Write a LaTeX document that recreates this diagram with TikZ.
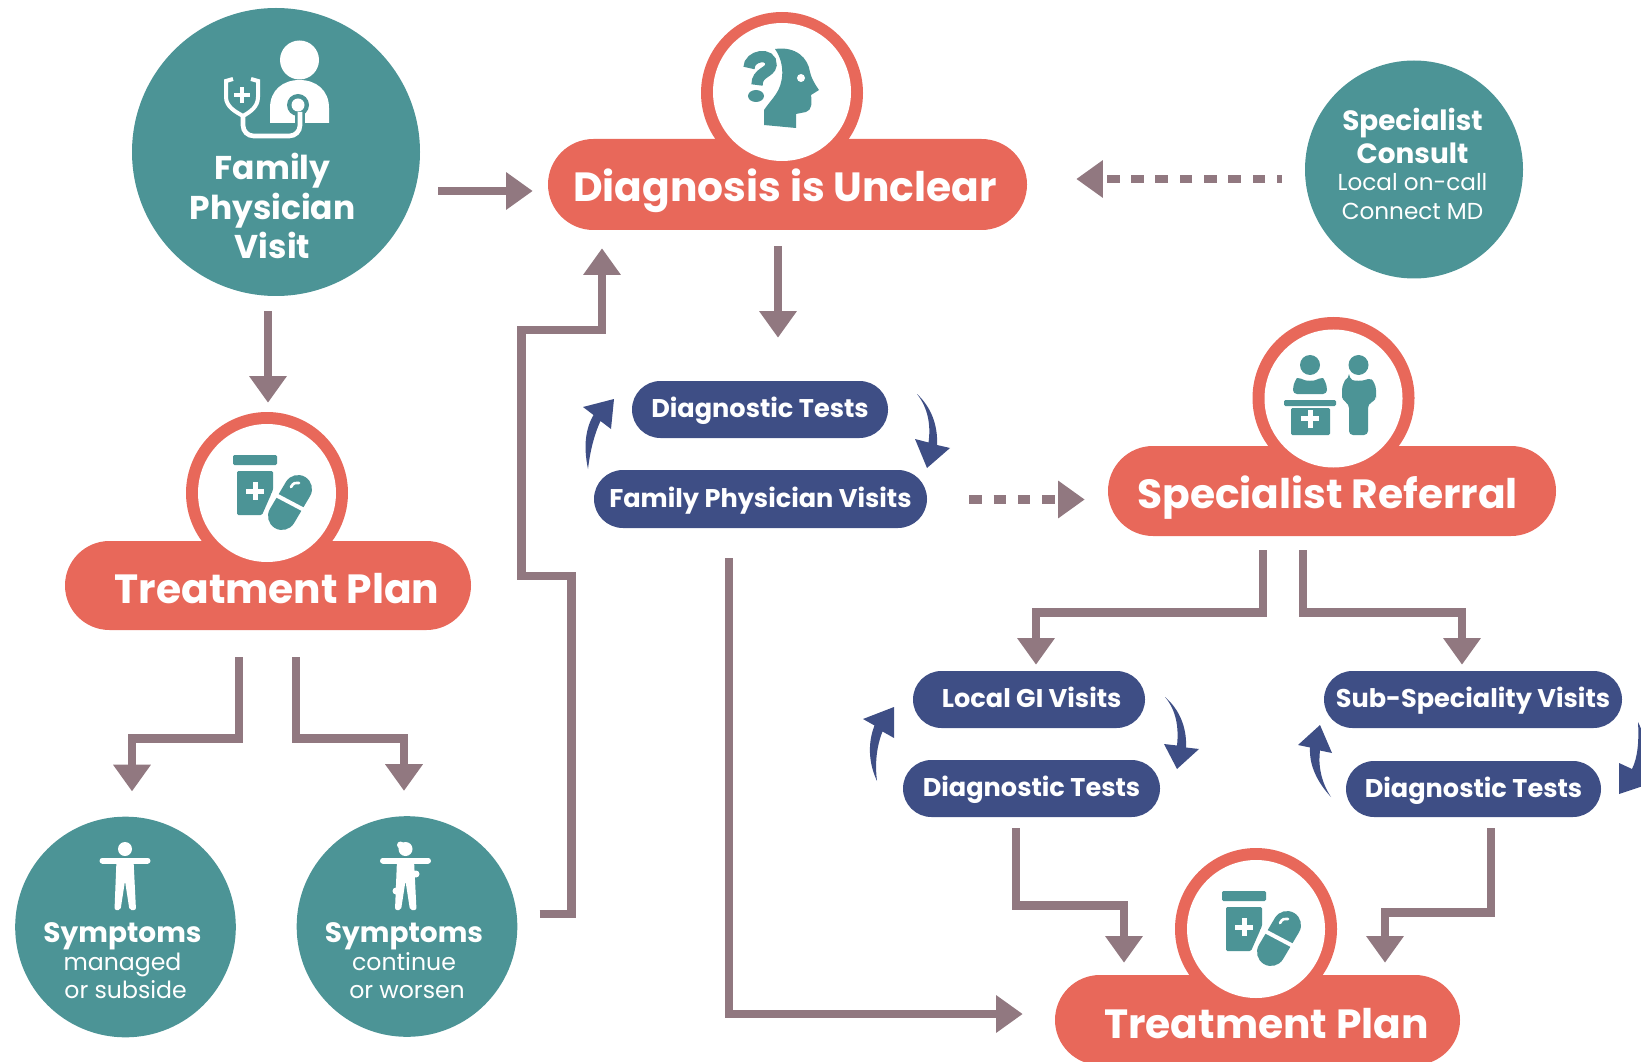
\documentclass[tikz,border=0pt]{standalone}
\usepackage{fontspec}
\setmainfont{Poppins}
\usetikzlibrary{arrows.meta,shapes.misc}

\definecolor{tealfill}{RGB}{76,148,150}
\definecolor{coralfill}{RGB}{232,104,90}
\definecolor{navyfill}{RGB}{62,78,133}
\definecolor{mauveline}{RGB}{145,120,128}

\tikzset{
  flowarrow/.style={draw=mauveline,line width=6.5pt,-{Triangle[length=20pt,width=27pt,fill=mauveline]}},
  flowdash/.style={flowarrow,dash pattern=on 9.5pt off 8.7pt},
  tealdisc/.style={circle,fill=tealfill,minimum size=165.5pt,inner sep=0pt},
  coralring/.style={circle,fill=coralfill,minimum size=121.5pt,inner sep=0pt},
  whitedisc/.style={circle,fill=white,minimum size=103.5pt,inner sep=0pt},
  coralpill/.style={rounded rectangle,fill=coralfill,inner sep=0pt},
  coraltext/.style={anchor=base,text=white,font=\fontsize{30.6}{36}\selectfont\bfseries,inner sep=0pt},
  navypill/.style={rounded rectangle,fill=navyfill,text=white,font=\fontsize{19.2}{23}\selectfont\bfseries,inner sep=0pt,text height=12pt,text depth=0pt},
  discbold/.style={text=white,align=center,inner sep=0pt},
  swirl/.style={fill=navyfill},
  iconteal/.style={fill=tealfill},
}

% pill bottle and capsule, drawn for the ring at (267,493)
\newcommand{\planicon}[2]{%
  \begin{scope}[shift={(#1,#2)}]
    \fill[iconteal,rounded corners=1pt] (233,455) rectangle (277,465);
    \fill[iconteal,rounded corners=1pt] (237,471) -- (273,471) -- (273,490) -- (262,515) -- (237,515) -- cycle;
    \fill[white] (252.5,482) rectangle (257.5,500);
    \fill[white] (246,488.5) rectangle (264,493.5);
    \draw[tealfill,line width=21pt,line cap=round] (298,489) -- (282,516);
    \draw[white,line width=3pt] (272,493) -- (308,512);
    \draw[white,line width=2pt,line cap=round] (291,487) .. controls (293,483) and (296,482) .. (299,483);
  \end{scope}}

% standing figure with its arms out
\newcommand{\figureicon}[1]{%
  \begin{scope}[shift={(#1,0)}]
    \fill[white] (123.5,849) circle (7);
    \draw[white,line width=4.5pt,line cap=round] (101,860.5) -- (146,860.5);
    \fill[white,rounded corners=1.5pt] (115,860) -- (132,860) -- (134.5,910) -- (128,910) -- (123.5,881) -- (119,910) -- (113,910) -- cycle;
  \end{scope}}

\begin{document}
\begin{tikzpicture}[x=0.75pt,y=0.75pt,yscale=-1,xscale=1]
    \useasboundingbox (0,0) rectangle (1641,1062);

    % Circles
    \node (fpvisit) [tealdisc,minimum size=216pt] at (276,152) {};
    \node (spconsult) [tealdisc,minimum size=163.5pt] at (1414,169.5) {};
    \node (managed) [tealdisc] at (125.5,927) {};
    \node (worsen) [tealdisc] at (407,926.5) {};

    % Diagnosis badge
    \node (dxring) [coralring] at (782,93) {};
    \node (dxpill) [coralpill,minimum width=359.25pt,minimum height=68.25pt] at (787.5,184.5) {};
    \node (dxdisc) [whitedisc] at (782,92) {};
    \node (dxlabel) [coraltext] at (785,202) {Diagnosis is Unclear};

    % Referral badge
    \node (refring) [coralring] at (1333.5,398) {};
    \node (refpill) [coralpill,minimum width=336pt,minimum height=67.5pt] at (1332,491) {};
    \node (refdisc) [whitedisc] at (1333.5,398.5) {};
    \node (reflabel) [coraltext] at (1327.5,508) {Specialist Referral};

    % Treatment badges
    \node (planringL) [coralring] at (267,493) {};
    \node (planpillL) [coralpill,minimum width=304.5pt,minimum height=66.75pt] at (268,585.5) {};
    \node (plandiscL) [whitedisc] at (267,493) {};
    \node (planlabelL) [coraltext] at (277,603) {Treatment Plan};
    \node (planringR) [coralring] at (1256,929) {};
    \node (planpillR) [coralpill,minimum width=303.75pt,minimum height=67.5pt] at (1257.5,1020) {};
    \node (plandiscR) [whitedisc] at (1256,929) {};
    \node (planlabelR) [coraltext] at (1266.5,1038) {Treatment Plan};

    % Blue pills
    \node (dxtests) [navypill,minimum width=192pt,minimum height=42.75pt] at (760,409.5) {Diagnostic Tests};
    \node (fpvisits) [navypill,minimum width=249.75pt,minimum height=43.5pt] at (760.5,499) {Family Physician Visits};
    \node (givisits) [navypill,minimum width=174pt,minimum height=42.75pt] at (1029,699.5) {\hspace*{4pt}Local GI Visits};
    \node (gitests) [navypill,minimum width=192.75pt,minimum height=42.75pt] at (1031.5,788.5) {Diagnostic Tests};
    \node (subvisits) [navypill,minimum width=223.5pt,minimum height=42.75pt] at (1473,699.5) {Sub-Speciality Visits};
    \node (subtests) [navypill,minimum width=191.25pt,minimum height=42pt] at (1473.5,789) {Diagnostic Tests};

    % Text Node
    \node (fpvisitlabel) [discbold,font=\fontsize{24.7}{29.5}\selectfont\bfseries] at (272.5,206) {Family\\Physician\\Visit};
    % Text Node
    \node (spconsultlabel) [discbold,font=\fontsize{20.9}{25}\selectfont] at (1412.5,163.5) {{\bfseries Specialist}\\[0pt]{\bfseries Consult}\\[-4.5pt]{\fontsize{17.35}{21}\selectfont Local on-call}\\[-3.8pt]{\fontsize{17.35}{21}\selectfont Connect MD}};
    % Text Node
    \node (managedlabel) [discbold,font=\fontsize{21}{21}\selectfont] at (122.5,961) {{\bfseries Symptoms}\\{\fontsize{17.7}{21}\selectfont managed}\\{\fontsize{17.7}{21}\selectfont \hspace*{4.6pt}or subside}};
    % Text Node
    \node (worsenlabel) [discbold,font=\fontsize{21}{21}\selectfont] at (404,961) {{\bfseries Symptoms}\\{\fontsize{17.7}{21}\selectfont continue}\\{\fontsize{17.7}{21}\selectfont \hspace*{4.6pt}or worsen}};

    %Straight Lines
    \draw[flowarrow] ([shift={(18,39)}]fpvisit.east) -- ([shift={(-15,6.5)}]dxpill.west);
    %Straight Lines
    \draw[flowdash,dash phase=5.8pt] ([shift={(-23,9.5)}]spconsult.west) -- ([shift={(49,-5.5)}]dxpill.east);
    %Straight Lines
    \draw[flowarrow] ([shift={(-9.5,16)}]dxpill.south) -- ([shift={(18,-43)}]dxtests.north);
    %Straight Lines
    \draw[flowarrow] ([shift={(-8,15)}]fpvisit.south) -- ([shift={(1,-9)}]planringL.north);
    %Straight Lines
    \draw[flowarrow] ([shift={(-29,27)}]planpillL.south) -- ++(0,81) -| ([shift={(6.5,-25)}]managed.north);
    %Straight Lines
    \draw[flowarrow] ([shift={(28,27)}]planpillL.south) -- ++(0,81) -| ([shift={(-3,-25)}]worsen.north);
    %Straight Lines
    \draw[flowarrow] ([shift={(22,-12.5)}]worsen.east) -- ++(32,0) -- ++(0,-338) -- ++(-50,0) -- ++(0,-246) -| ([shift={(-185.5,18)}]dxpill.south);
    %Straight Lines
    \draw[flowdash] ([shift={(42,0.5)}]fpvisits.east) -- ([shift={(-23,8.5)}]refpill.west);
    %Straight Lines
    \draw[flowarrow] ([shift={(-69,14)}]refpill.south) -- ++(0,62) -| ([shift={(7,-6)}]givisits.north);
    %Straight Lines
    \draw[flowarrow] ([shift={(-29,14)}]refpill.south) -- ++(0,62) -| ([shift={(-11,-6)}]subvisits.north);
    %Straight Lines
    \draw[flowarrow] ([shift={(-15.5,11)}]gitests.south) -- ++(0,77) -| ([shift={(-133.5,-12)}]planpillR.north);
    %Straight Lines
    \draw[flowarrow] ([shift={(17.5,11)}]subtests.south) -- ++(0,84) -| ([shift={(127.5,-12)}]planpillR.north);
    %Straight Lines
    \draw[flowarrow] ([shift={(-31.5,30)}]fpvisits.south) |- ([shift={(-32,-6)}]planpillR.west);

    %Curved Arrows
    \fill[swirl] (588,469) .. controls (583,445) and (586,428) .. (593.5,415) -- (583,407) -- (614,399) -- (611,429) -- (600.5,421) .. controls (594,435) and (590,452) .. cycle;
    \fill[swirl] (917,394) .. controls (928,408) and (931,425) .. (928.5,442.5) -- (915,439) -- (927,468) -- (950,448) -- (937,445) .. controls (938,425) and (931,407) .. cycle;
    \fill[swirl] (877,781) .. controls (868,762) and (868,742) .. (874.5,725.5) -- (863,719) -- (894,707) -- (894,738) -- (882.5,731.5) .. controls (876,748) and (875,765) .. cycle;
    \fill[swirl] (1165,697) .. controls (1176,710) and (1179,727) .. (1177,745.5) -- (1164,744) -- (1177,769) -- (1199,749) -- (1186,747.5) .. controls (1187,727) and (1179,709) .. cycle;
    \fill[swirl] (1331,797) .. controls (1317,782) and (1309,765) .. (1310,747.5) -- (1298,745) -- (1320,725) -- (1332,753) -- (1320,750.5) .. controls (1318,765) and (1321,782) .. cycle;
    \fill[swirl] (1638,722) .. controls (1639,740) and (1638,757) .. (1632,769) -- (1619,763) -- (1619,794) -- (1655,782) -- (1642,775) .. controls (1648,757) and (1647,740) .. cycle;

    % Physician icon
    \fill[white] (299.5,60) circle (19.5);
    \fill[white] (270,123) -- (270,108) .. controls (270,90) and (283,80) .. (299.5,80) .. controls (316,80) and (329,90) .. (329,108) -- (329,123) -- cycle;
    \draw[tealfill,line width=8pt] (300,124) -- (300,110);
    \fill[iconteal] (298,105) circle (11);
    \fill[white] (298,105) circle (6.5);
    \draw[white,line width=3.5pt,rounded corners=8pt] (243,114) -- (243,136) -- (300,136) -- (300,112);
    \draw[white,line width=3pt] (233,79) -- (226,81) -- (226,97) .. controls (226,107) and (236,112) .. (243,116) .. controls (250,112) and (258,107) .. (258,97) -- (258,81) -- (251,79);
    \fill[white] (239.5,87) rectangle (243.5,103);
    \fill[white] (233.5,93) rectangle (249.5,97);

    % Head icon
    \fill[iconteal] (775,49) .. controls (796,46) and (808,58) .. (810,72) .. controls (811,78) and (816,86) .. (819,90) -- (811,95) .. controls (812,103) and (812,110) .. (806,112) -- (796,114) -- (796,128) -- (764,125) -- (764,110) .. controls (768,104) and (772,100) .. (776,94) .. controls (783,84) and (786,65) .. cycle;
    \fill[white] (801,78) circle (4);
    \draw[tealfill,line width=8.5pt] (749,68) .. controls (749,55) and (772,52) .. (771,65) .. controls (770,73) and (757,72) .. (757,85);
    \fill[iconteal] (756,96) ellipse (8 and 6);

    % Reception icon
    \fill[iconteal] (1310,365) circle (10);
    \fill[iconteal,rounded corners=3pt] (1293,394) .. controls (1293,383) and (1297,378) .. (1301,378) .. controls (1306,381) and (1314,381) .. (1319,378) .. controls (1323,378) and (1327,383) .. (1327,394) -- cycle;
    \fill[iconteal,rounded corners=1pt] (1284,400) rectangle (1336,406);
    \fill[iconteal,rounded corners=1pt] (1291,408) rectangle (1330,435);
    \fill[white] (1307.5,409.5) rectangle (1312.5,427.5);
    \fill[white] (1301,416) rectangle (1319,421);
    \fill[iconteal] (1358.5,365) circle (10);
    \fill[iconteal,rounded corners=3pt] (1349,378) .. controls (1354,381) and (1363,381) .. (1368,378) .. controls (1373,380) and (1376,386) .. (1376,394) -- (1376,400) -- (1368,404) -- (1368,435) -- (1349,435) -- (1349,404) -- (1342,400) -- (1342,394) .. controls (1342,386) and (1345,380) .. cycle;

    % Bottle and capsule icons
    \planicon{0}{0}
    \planicon{989}{436}

    % Figure icons
    \figureicon{1.5}
    \figureicon{282}
    \fill[white] (400.5,845) circle (3.5);
    \fill[white] (416,874) circle (3.5);
    \fill[white] (396,891) circle (3.5);

\end{tikzpicture}
\end{document}
